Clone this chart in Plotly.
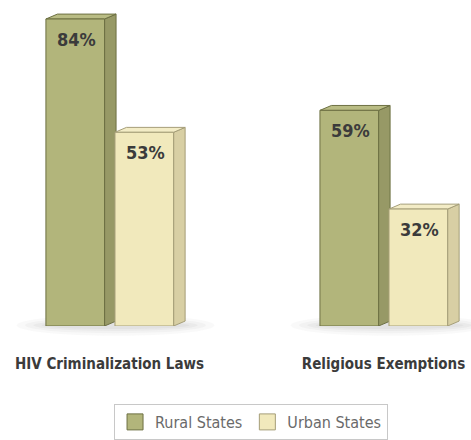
import plotly.graph_objects as go

# --- data -------------------------------------------------------------
categories = ["HIV Criminalization Laws", "Religious Exemptions"]
series_names = ["Rural States", "Urban States"]
rural_values = [84, 59]
urban_values = [53, 32]

# --- styling ----------------------------------------------------------
FONT = "DejaVu Sans Condensed, Liberation Sans Narrow, sans-serif"
W, H = 471, 440
MARGIN_B = 108
Y_MAX = 89.2

FRONT = {"Rural States": "#b2b57b", "Urban States": "#f1e9bc"}
SIDE = {"Rural States": "#979966", "Urban States": "#d8cfa4"}
TOP = {"Rural States": "#b9bc84", "Urban States": "#f3ecc6"}
EDGE = {"Rural States": "#6d7043", "Urban States": "#a59e78"}

BAR_W = 0.214          # bar width in category units
OFFSETS = [-0.232, 0.020]  # left edge of each series' bar relative to group centre

X_RANGE = [-0.3996, 1.3193]
# pixel extrusion of the 3-D box (right, up)
DEPTH_PX = (11.5, 5.0)

plot_w = W
plot_h = H - MARGIN_B
dx = DEPTH_PX[0] * (X_RANGE[1] - X_RANGE[0]) / plot_w
dy = DEPTH_PX[1] * Y_MAX / plot_h

fig = go.Figure()
shapes = []
annotations = []

xs = list(range(len(categories)))
for name, vals, off in zip(series_names, [rural_values, urban_values], OFFSETS):
    fig.add_trace(go.Bar(
        x=xs, y=vals, name=name, offset=off, width=BAR_W,
        marker=dict(color=FRONT[name], line=dict(color=EDGE[name], width=1)),
        showlegend=False, hoverinfo="skip",
    ))
    for xi, v in zip(xs, vals):
        xl = xi + off
        xr = xl + BAR_W
        # side face
        shapes.append(dict(
            type="path", xref="x", yref="y", layer="below",
            path=f"M{xr},0 L{xr+dx},{dy} L{xr+dx},{v+dy} L{xr},{v} Z",
            fillcolor=SIDE[name], line=dict(color=EDGE[name], width=1),
        ))
        # top face
        shapes.append(dict(
            type="path", xref="x", yref="y", layer="below",
            path=f"M{xl},{v} L{xl+dx},{v+dy} L{xr+dx},{v+dy} L{xr},{v} Z",
            fillcolor=TOP[name], line=dict(color=EDGE[name], width=1),
        ))
        annotations.append(dict(
            x=xl + BAR_W / 2, y=v, xref="x", yref="y",
            text=f"{v}%", showarrow=False, yanchor="middle",
            yshift=-20, xshift=1,
            font=dict(family=FONT, size=18, color="#3b3b3b", weight="bold"),
        ))

# soft floor shadow under each group
for xi in xs:
    cx = xi + (OFFSETS[0] + OFFSETS[1] + BAR_W) / 2 + dx / 2
    for hw, hh, op in [(0.36, 0.030, 0.05), (0.33, 0.022, 0.06),
                       (0.30, 0.015, 0.07), (0.27, 0.009, 0.08)]:
        shapes.append(dict(
            type="circle", xref="x", yref="paper", layer="below",
            x0=cx - hw, x1=cx + hw, y0=-hh, y1=hh + 0.004,
            fillcolor="#8c8c8c", opacity=op, line=dict(width=0),
        ))

# legend proxies (square swatches)
for name in series_names:
    fig.add_trace(go.Scatter(
        x=[None], y=[None], mode="markers", name=name,
        marker=dict(symbol="square", size=16, color=FRONT[name],
                    line=dict(color=EDGE[name], width=1)),
    ))

fig.update_layout(
    width=W, height=H,
    margin=dict(l=0, r=0, t=0, b=MARGIN_B, pad=0),
    paper_bgcolor="white", plot_bgcolor="rgba(0,0,0,0)",
    barmode="overlay",
    shapes=shapes, annotations=annotations,
    xaxis=dict(
        range=X_RANGE, tickvals=xs, ticktext=categories,
        showgrid=False, zeroline=False, showline=False, ticks="",
        tickfont=dict(family=FONT, size=15, color="#3b3b3b", weight="bold"),
        ticklabelstandoff=27, ticklabeloverflow="allow", fixedrange=True,
    ),
    yaxis=dict(range=[0, Y_MAX], visible=False, fixedrange=True),
    legend=dict(
        orientation="h", x=0.533, xanchor="center", y=-0.24, yanchor="top",
        bordercolor="#c8c8c8", borderwidth=1, bgcolor="white",
        font=dict(family=FONT, size=16, color="#6a6a6a"),
        itemclick=False, itemdoubleclick=False,
    ),
    showlegend=True,
)

fig.write_html("out.html")
